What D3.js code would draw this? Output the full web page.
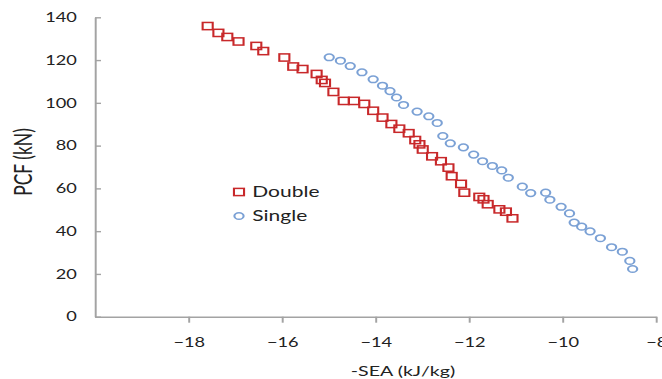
<!DOCTYPE html>
<html>
<head>
<meta charset="utf-8">
<script src="https://cdn.jsdelivr.net/npm/d3@7"></script>
<style>
  html, body { margin: 0; padding: 0; background: #fff; }
  svg { display: block; }
  text { font-family: Lato, 'Open Sans', sans-serif; fill: #222; }
</style>
</head>
<body>
<div id="chart"></div>
<script>
// -SEA (kJ/kg) vs PCF (kN)
const doubleSea = [-17.59, -17.36, -17.17, -16.93, -16.55, -16.40, -15.95, -15.76, -15.56, -15.26,
  -15.15, -15.08, -14.90, -14.68, -14.46, -14.24, -14.05, -13.85, -13.66, -13.49,
  -13.29, -13.15, -13.06, -12.99, -12.79, -12.60, -12.44, -12.37, -12.17, -12.10,
  -11.78, -11.69, -11.60, -11.35, -11.21, -11.07];
const doublePcf = [135.9, 132.7, 130.8, 128.7, 126.6, 124.2, 121.2, 117.0, 115.8, 113.5,
  110.7, 109.3, 105.1, 100.9, 100.9, 99.5, 96.3, 93.1, 90.1, 87.9,
  85.8, 82.6, 80.6, 78.2, 75.0, 72.7, 69.7, 65.7, 62.1, 58.0,
  56.0, 54.9, 52.6, 50.2, 49.1, 46.0];

const singleSea = [-14.99, -14.75, -14.54, -14.29, -14.05, -13.85, -13.69, -13.55, -13.40, -13.11,
  -12.86, -12.68, -12.56, -12.40, -12.12, -11.90, -11.71, -11.50, -11.30, -11.16,
  -10.86, -10.68, -10.36, -10.27, -10.03, -9.85, -9.75, -9.59, -9.41, -9.19,
  -8.95, -8.72, -8.56, -8.50];
const singlePcf = [121.3, 119.7, 117.2, 114.3, 111.0, 108.0, 105.5, 102.5, 99.0, 95.9,
  93.7, 90.6, 84.5, 81.1, 79.2, 75.8, 72.7, 70.5, 68.4, 65.0,
  60.8, 57.8, 58.0, 54.7, 51.4, 48.3, 44.0, 42.1, 39.9, 36.7,
  32.5, 30.4, 26.1, 22.3];

const seriesNames = ['Double', 'Single'];
const xTicks = [-18, -16, -14, -12, -10, -8];
const yTicks = [0, 20, 40, 60, 80, 100, 120, 140];

const W = 662, H = 379;
// the reference is stretched sideways, so draw in a narrower space and scale x
const sx = 1.4;

const series = [
  { name: seriesNames[0], shape: 'square', color: '#c8282a',
    points: doubleSea.map((x, i) => ({ x, y: doublePcf[i] })) },
  { name: seriesNames[1], shape: 'circle', color: '#7ba1d5',
    points: singleSea.map((x, i) => ({ x, y: singlePcf[i] })) },
];

const svg = d3.select('#chart').append('svg')
  .attr('width', W)
  .attr('height', H);

svg.append('rect').attr('width', W).attr('height', H).attr('fill', '#fff');

const root = svg.append('g').attr('transform', `scale(${sx},1)`);

const x = d3.scaleLinear().domain([-20, -8]).range([95 / sx, 656 / sx]);
const y = d3.scaleLinear().domain([0, 140]).range([316.7, 17.3]);

const axisColor = '#a3a3a3';

const gy = root.append('g')
  .attr('transform', `translate(${x(-20)},0)`)
  .call(d3.axisLeft(y).tickValues(yTicks).tickSizeInner(-4.3).tickSizeOuter(0).tickPadding(13));

const gx = root.append('g')
  .attr('transform', `translate(0,${y(0)})`)
  .call(d3.axisBottom(x).tickValues(xTicks).tickSizeInner(6).tickSizeOuter(0).tickPadding(15));

[gy, gx].forEach(g => {
  g.select('.domain').attr('stroke', axisColor).attr('stroke-width', 1.4);
  g.selectAll('.tick line').attr('stroke', axisColor).attr('stroke-width', 1.4);
  g.selectAll('.tick text')
    .attr('fill', '#222')
    .style('font-family', 'Lato, sans-serif')
    .style('font-size', '13px');
});

// axis titles
root.append('text')
  .attr('transform', `translate(22.6,162) rotate(-90)`)
  .attr('text-anchor', 'middle')
  .style('font-size', '17.5px')
  .text('PCF (kN)');

root.append('text')
  .attr('x', 403 / sx)
  .attr('y', 376)
  .attr('text-anchor', 'middle')
  .style('font-size', '14px')
  .text('-SEA (kJ/kg)');

const size = 7.2;

function drawMarker(g, s) {
  if (s.shape === 'square') {
    g.append('rect')
      .attr('x', -size / 2).attr('y', -size / 2)
      .attr('width', size).attr('height', size)
      .attr('fill', 'none').attr('stroke', s.color).attr('stroke-width', 1.5);
  } else {
    g.append('circle')
      .attr('r', size / 2 - 0.3)
      .attr('fill', 'none').attr('stroke', s.color).attr('stroke-width', 1.5);
  }
}

series.forEach(s => {
  root.append('g').attr('class', 'series')
    .selectAll('g.pt')
    .data(s.points)
    .join('g')
    .attr('class', 'pt')
    .attr('transform', d => `translate(${x(d.x)},${y(d.y)})`)
    .each(function () { drawMarker(d3.select(this), s); });
});

// legend
const legend = root.append('g').attr('transform', `translate(${239 / sx},192)`);
series.forEach((s, i) => {
  const item = legend.append('g').attr('transform', `translate(0,${i * 24})`);
  drawMarker(item, s);
  item.append('text')
    .attr('x', 9.5)
    .attr('y', 0)
    .attr('dy', '0.36em')
    .style('font-size', '15px')
    .text(s.name);
});
</script>
</body>
</html>
